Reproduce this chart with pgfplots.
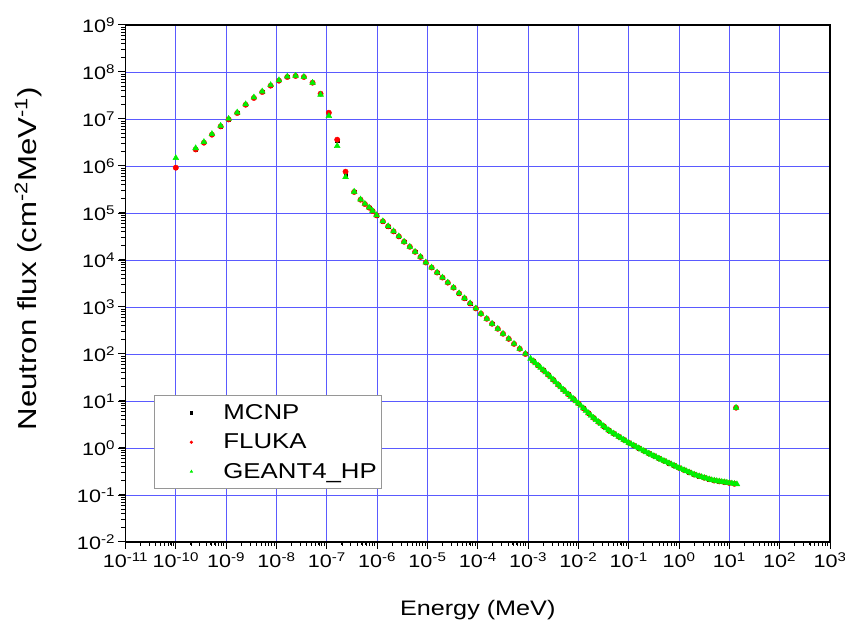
\documentclass[border=0pt]{standalone}
\usepackage{pgfplots}
\pgfplotsset{compat=1.18}
\usepackage{pgfplotstable}
\usepackage{fontspec}
\setmainfont[FakeStretch=1.2]{Liberation Sans}
\definecolor{gridblue}{RGB}{90,90,255}
\definecolor{limegreen}{RGB}{0,240,0}

\pgfplotstableread{
x y
1e-10 9.2e5
2.48e-10 2.25e6
3.62e-10 3.13e6
5.22e-10 4.63e6
7.78e-10 6.97e6
1.12e-9 9.8e6
1.66e-9 1.34e7
2.44e-9 2.01e7
3.56e-9 2.80e7
5.21e-9 3.75e7
7.66e-9 5.12e7
1.12e-8 6.53e7
1.64e-8 7.83e7
2.40e-8 8.22e7
3.51e-8 7.83e7
5.22e-8 5.92e7
7.53e-8 3.45e7
1.10e-7 1.36e7
1.61e-7 3.40e6
2.36e-7 6.50e5
3.50e-7 2.80e5
4.69e-7 1.92e5
5.71e-7 1.55e5
6.95e-7 1.30e5
8.13e-7 1.10e5
9.75e-7 8.9e4
1.30e-6 6.65e4
1.66e-6 5.20e4
2.12e-6 4.06e4
2.70e-6 3.18e4
3.44e-6 2.44e4
4.47e-6 1.91e4
5.69e-6 1.49e4
7.28e-6 1.16e4
9.29e-6 8.85e3
1.21e-5 6.92e3
1.56e-5 5.41e3
1.99e-5 4.23e3
2.54e-5 3.30e3
3.30e-5 2.58e3
4.26e-5 1.95e3
5.45e-5 1.53e3
7.05e-5 1.19e3
9.16e-5 933
1.16e-4 719
1.51e-4 562
1.93e-4 440
2.50e-4 344
3.18e-4 269
4.13e-4 210
5.26e-4 164
6.82e-4 129
8.88e-4 100
1.259e-3 71.3
1.585e-3 57.0
1.995e-3 45.6
2.512e-3 36.1
3.162e-3 28.3
3.981e-3 22.1
5.012e-3 17.4
6.310e-3 13.9
7.943e-3 11.1
1.0e-2 8.91
1.259e-2 7.01
1.585e-2 5.52
1.995e-2 4.39
2.512e-2 3.58
3.162e-2 2.92
3.981e-2 2.39
5.012e-2 2.04
6.310e-2 1.75
7.943e-2 1.50
1.0e-1 1.29
1.259e-1 1.13
1.585e-1 0.993
1.995e-1 0.871
2.512e-1 0.767
3.162e-1 0.679
3.981e-1 0.601
5.012e-1 0.533
6.310e-1 0.475
7.943e-1 0.424
1.0 0.377
1.259 0.339
1.585 0.305
1.995 0.274
2.512 0.251
3.162 0.233
3.981 0.216
5.012 0.203
6.310 0.195
7.943 0.188
10.0 0.180
12.59 0.173
13.6 7.2
}\mcnp

\pgfplotstableread{
x y
1e-10 9.2e5
2.48e-10 2.25e6
3.62e-10 3.13e6
5.22e-10 4.63e6
7.78e-10 6.97e6
1.12e-9 9.8e6
1.66e-9 1.34e7
2.44e-9 2.01e7
3.56e-9 2.80e7
5.21e-9 3.75e7
7.66e-9 5.12e7
1.12e-8 6.53e7
1.64e-8 7.83e7
2.40e-8 8.22e7
3.51e-8 7.83e7
5.22e-8 5.92e7
7.53e-8 3.45e7
1.10e-7 1.36e7
1.61e-7 3.63e6
2.36e-7 7.57e5
3.50e-7 2.80e5
4.69e-7 1.92e5
5.71e-7 1.55e5
6.95e-7 1.30e5
8.13e-7 1.10e5
9.75e-7 8.9e4
1.30e-6 6.65e4
1.66e-6 5.20e4
2.12e-6 4.06e4
2.70e-6 3.18e4
3.44e-6 2.44e4
4.47e-6 1.91e4
5.69e-6 1.49e4
7.28e-6 1.16e4
9.29e-6 8.85e3
1.21e-5 6.92e3
1.56e-5 5.41e3
1.99e-5 4.23e3
2.54e-5 3.30e3
3.30e-5 2.58e3
4.26e-5 1.95e3
5.45e-5 1.53e3
7.05e-5 1.19e3
9.16e-5 933
1.16e-4 719
1.51e-4 562
1.93e-4 440
2.50e-4 344
3.18e-4 269
4.13e-4 210
5.26e-4 164
6.82e-4 129
8.88e-4 100
1.259e-3 71.3
1.585e-3 57.0
1.995e-3 45.6
2.512e-3 36.1
3.162e-3 28.3
3.981e-3 22.1
5.012e-3 17.4
6.310e-3 13.9
7.943e-3 11.1
1.0e-2 8.91
1.259e-2 7.01
1.585e-2 5.52
1.995e-2 4.39
2.512e-2 3.58
3.162e-2 2.92
3.981e-2 2.39
5.012e-2 2.04
6.310e-2 1.75
7.943e-2 1.50
1.0e-1 1.29
1.259e-1 1.13
1.585e-1 0.993
1.995e-1 0.871
2.512e-1 0.767
3.162e-1 0.679
3.981e-1 0.601
5.012e-1 0.533
6.310e-1 0.475
7.943e-1 0.424
1.0 0.377
1.259 0.339
1.585 0.305
1.995 0.274
2.512 0.251
3.162 0.233
3.981 0.216
5.012 0.203
6.310 0.195
7.943 0.188
10.0 0.180
12.59 0.173
13.6 7.2
}\fluka

\pgfplotstableread{
x y
1e-10 1.48e6
2.48e-10 2.40e6
3.62e-10 3.25e6
5.22e-10 4.80e6
7.78e-10 7.20e6
1.12e-9 1.01e7
1.66e-9 1.38e7
2.44e-9 2.07e7
3.56e-9 2.89e7
5.21e-9 3.87e7
7.66e-9 5.28e7
1.12e-8 6.70e7
1.64e-8 8.00e7
2.40e-8 8.35e7
3.51e-8 7.90e7
5.22e-8 5.92e7
7.53e-8 3.30e7
1.10e-7 1.16e7
1.61e-7 2.67e6
2.36e-7 5.81e5
3.50e-7 2.85e5
4.69e-7 1.95e5
5.71e-7 1.57e5
6.95e-7 1.31e5
8.13e-7 1.11e5
9.75e-7 9.0e4
1.30e-6 6.70e4
1.66e-6 5.24e4
2.12e-6 4.09e4
2.70e-6 3.20e4
3.44e-6 2.46e4
4.47e-6 1.92e4
5.69e-6 1.50e4
7.28e-6 1.17e4
9.29e-6 8.90e3
1.21e-5 6.95e3
1.56e-5 5.44e3
1.99e-5 4.25e3
2.54e-5 3.32e3
3.30e-5 2.59e3
4.26e-5 1.96e3
5.45e-5 1.54e3
7.05e-5 1.20e3
9.16e-5 938
1.16e-4 722
1.51e-4 565
1.93e-4 442
2.50e-4 346
3.18e-4 270
4.13e-4 211
5.26e-4 165
6.82e-4 130
8.88e-4 101
1.122e-3 79.7
1.259e-3 71.3
1.413e-3 63.8
1.585e-3 57.0
1.778e-3 51.0
1.995e-3 45.6
2.239e-3 40.7
2.512e-3 36.1
2.818e-3 32.0
3.162e-3 28.3
3.548e-3 25.0
3.981e-3 22.1
4.467e-3 19.6
5.012e-3 17.4
5.623e-3 15.6
6.310e-3 13.9
7.079e-3 12.4
7.943e-3 11.1
8.913e-3 9.95
1.0e-2 8.91
1.122e-2 7.91
1.259e-2 7.01
1.413e-2 6.22
1.585e-2 5.52
1.778e-2 4.90
1.995e-2 4.39
2.239e-2 3.96
2.512e-2 3.58
2.818e-2 3.24
3.162e-2 2.92
3.548e-2 2.64
3.981e-2 2.39
4.467e-2 2.20
5.012e-2 2.04
5.623e-2 1.89
6.310e-2 1.75
7.079e-2 1.62
7.943e-2 1.50
8.913e-2 1.39
0.1 1.29
0.1122 1.21
0.1259 1.13
0.1413 1.06
0.1585 0.993
0.1778 0.929
0.1995 0.871
0.2239 0.817
0.2512 0.767
0.2818 0.723
0.3162 0.679
0.3548 0.640
0.3981 0.601
0.4467 0.566
0.5012 0.533
0.5623 0.504
0.6310 0.475
0.7079 0.449
0.7943 0.424
0.8913 0.400
1.0 0.377
1.122 0.357
1.259 0.339
1.413 0.321
1.585 0.305
1.778 0.289
1.995 0.274
2.239 0.261
2.512 0.251
2.818 0.242
3.162 0.233
3.548 0.224
3.981 0.216
4.467 0.208
5.012 0.203
5.623 0.199
6.310 0.195
7.079 0.191
7.943 0.188
8.913 0.184
10.0 0.180
11.22 0.177
12.59 0.173
14.13 0.170
13.6 7.2
}\geant

\begin{document}
\begin{tikzpicture}
\begin{axis}[
  scale only axis,
  width=704.5pt, height=517pt,
  xmode=log, ymode=log,
  xmin=1e-11, xmax=1e3,
  ymin=1e-2, ymax=1e9,
  axis line style={line width=1.6pt},
  xtick={1e-11,1e-10,1e-9,1e-8,1e-7,1e-6,1e-5,1e-4,1e-3,1e-2,1e-1,1,10,100,1000},
  xticklabels={10\textsuperscript{-11},10\textsuperscript{-10},10\textsuperscript{-9},10\textsuperscript{-8},10\textsuperscript{-7},10\textsuperscript{-6},10\textsuperscript{-5},10\textsuperscript{-4},10\textsuperscript{-3},10\textsuperscript{-2},10\textsuperscript{-1},10\textsuperscript{0},10\textsuperscript{1},10\textsuperscript{2},10\textsuperscript{3}},
  ytick={1e-2,1e-1,1,10,100,1e3,1e4,1e5,1e6,1e7,1e8,1e9},
  yticklabels={10\textsuperscript{-2},10\textsuperscript{-1},10\textsuperscript{0},10\textsuperscript{1},10\textsuperscript{2},10\textsuperscript{3},10\textsuperscript{4},10\textsuperscript{5},10\textsuperscript{6},10\textsuperscript{7},10\textsuperscript{8},10\textsuperscript{9}},
  tick label style={font=\fontsize{18}{20}\selectfont},
  xtick pos=left, ytick pos=left,
  tick align=outside,
  major tick length=7pt,
  tick style={draw=black, line width=1pt},
  xmajorgrids, ymajorgrids,
  major grid style={draw=gridblue, line width=0.9pt},
  xlabel={Energy (MeV)},
  ylabel={Neutron flux (cm\textsuperscript{-2}MeV\textsuperscript{-1})},
  every axis x label/.style={at={(axis description cs:0.5,-0.1315)}, anchor=center, font=\fontsize{21}{24}\selectfont},
  every axis y label/.style={at={(axis description cs:-0.138,0.548)}, rotate=90, anchor=center, font=\fontsize{26}{28}\selectfont},
  legend style={at={(axis description cs:0.0405,0.102)}, anchor=south west,
    draw={rgb,255:red,150;green,150;blue,150}, line width=0.8pt, fill=white,
    font=\fontsize{21.5}{24}\selectfont, inner xsep=3pt, inner ysep=7pt,
    row sep=9pt, cells={anchor=west}},
  legend image code/.code={%
    \path[draw=none] (0pt,-1pt) rectangle (64pt,1pt);
    \draw[#1, /tikz/only marks, mark size=1.2pt] plot coordinates {(34pt,0pt)};},
  extra description/.code={%
    \foreach \i in {0,...,14}{%
      \pgfmathsetmacro\xf{\i/14}%
      \draw[black, line width=1pt] (axis description cs:\xf,0) -- ++(0pt,-7pt);}%
    \foreach \i in {0,...,13}{%
      \foreach \m in {0.30103,0.47712,0.60206,0.69897,0.77815,0.84510,0.90309,0.95424}{%
        \pgfmathsetmacro\xf{(\i+\m)/14}%
        \draw[black, line width=0.8pt] (axis description cs:\xf,0) -- ++(0pt,-4pt);}}%
    \foreach \j in {0,...,11}{%
      \pgfmathsetmacro\yf{\j/11}%
      \draw[black, line width=1pt] (axis description cs:0,\yf) -- ++(-7pt,0pt);}%
    \foreach \j in {0,...,10}{%
      \foreach \m in {0.30103,0.47712,0.60206,0.69897,0.77815,0.84510,0.90309,0.95424}{%
        \pgfmathsetmacro\yf{(\j+\m)/11}%
        \draw[black, line width=0.8pt] (axis description cs:0,\yf) -- ++(-4pt,0pt);}}%
  },
]
\addplot[only marks, mark=square*, mark size=1.6pt, black] table {\mcnp};
\addlegendentry{MCNP}
\addplot[only marks, mark=*, mark size=2.7pt, red] table {\fluka};
\addlegendentry{FLUKA}
\addplot[only marks, mark=triangle*, mark size=3.4pt, limegreen] table {\geant};
\addlegendentry{GEANT4\_HP}
\end{axis}
\pgfresetboundingbox
\path ([shift={(-125.5pt,-83pt)}]current axis.south west) rectangle ([shift={(15pt,25pt)}]current axis.north east);
\end{tikzpicture}
\end{document}
